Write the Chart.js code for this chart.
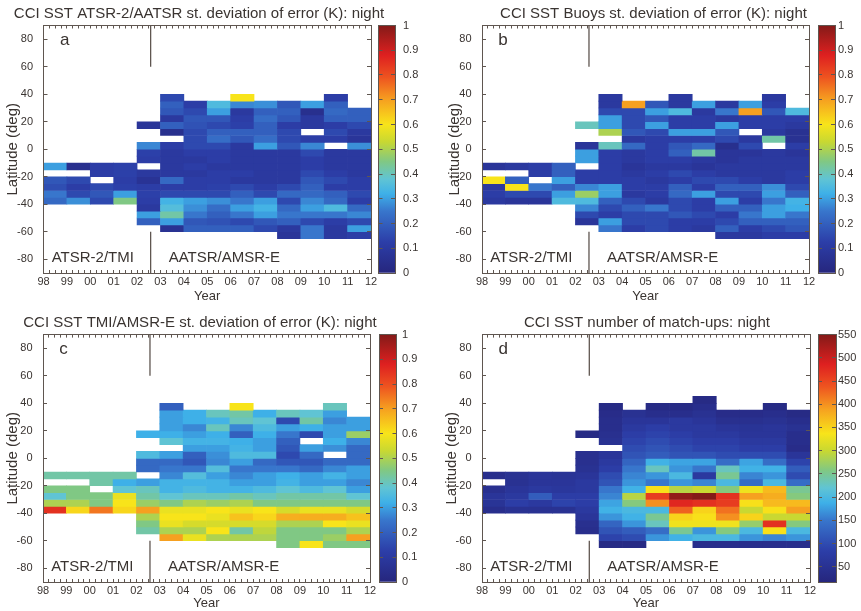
<!DOCTYPE html>
<html>
<head>
<meta charset="utf-8">
<title>CCI SST night statistics</title>
<script src="https://cdn.jsdelivr.net/npm/chart.js@4.4.1/dist/chart.umd.min.js"></script>
<style>
  html, body { margin: 0; padding: 0; background: #ffffff; }
  #figure { position: relative; width: 861px; height: 611px; overflow: hidden; }
  #figure canvas { position: absolute; }
</style>
</head>
<body>
<div id="figure"></div>
<script>
// ---- data: 5 degree latitude bands x yearly columns (98 .. 11) ----
const _ = null;
const firstYear = 1998;
const lastYear = 2012;
const yearLabels = ['98', '99', '00', '01', '02', '03', '04', '05', '06', '07', '08', '09', '10', '11', '12'];
const latStep = 5;
const latTops = [45, 40, 35, 30, 25, 20, 15, 10, 5, 0, -5, -10, -15, -20, -25, -30, -35, -40, -45, -50, -55, -60];
const latTicks = [-80, -60, -40, -20, 0, 20, 40, 60, 80];
const switchYear = 2002.58;

const sdRange = [0, 1];
const sdTicks = [0, 0.1, 0.2, 0.3, 0.4, 0.5, 0.6, 0.7, 0.8, 0.9, 1];
const countRange = [17, 550];
const countTicks = [50, 100, 150, 200, 250, 300, 350, 400, 450, 500, 550];

// st. deviation of error (K), ATSR-2/AATSR
const sdAtsr = [
  [_, _, _, _, _, _, _, _, _, _, _, _, _, _],
  [_, _, _, _, _, .15, _, _, .60, _, _, _, .12, _],
  [_, _, _, _, _, .20, .12, .35, .27, .28, .18, .30, .20, _],
  [_, _, _, _, _, .18, .15, .30, .10, .20, .20, .05, .22, .20],
  [_, _, _, _, _, .10, .18, .18, .12, .23, .18, .10, .20, .20],
  [_, _, _, _, .08, .20, .17, .15, .13, .20, .12, .10, .12, .15],
  [_, _, _, _, _, .05, .15, .20, .20, .20, .15, _, .15, .10],
  [_, _, _, _, _, _, .15, .23, .18, .23, .15, .12, .12, .08],
  [_, _, _, _, .27, .12, .15, .15, .10, .30, .18, .27, _, .28],
  [_, _, _, _, .13, .10, .12, .12, .10, .10, .10, .15, .10, .10],
  [_, _, _, _, .12, .10, .10, .12, .10, .10, .10, .12, .10, .10],
  [.30, .05, .12, .13, _, .10, .12, .10, .10, .10, .10, .12, .10, .10],
  [_, _, .12, .13, .10, .10, .10, .12, .12, .10, .10, .15, .12, .10],
  [.18, .15, _, .12, .07, .22, .12, .12, .10, .10, .10, .18, .15, .12],
  [.16, .12, .15, .13, .12, .12, .12, .13, .15, .12, .15, .20, .12, .12],
  [.25, .15, .18, .30, .13, .15, .15, .15, .20, .15, .22, .22, .20, .15],
  [.22, .28, .15, .45, .12, .33, .30, .28, .25, .30, .15, .27, .22, .12],
  [_, _, _, _, .10, .36, .28, .23, .30, .33, .22, .30, .35, .22],
  [_, _, _, _, .30, .42, .25, .20, .25, .30, .25, .25, .25, .27],
  [_, _, _, _, .20, .30, .18, .17, .15, .18, .20, .15, .12, .15],
  [_, _, _, _, _, .06, .20, .20, .20, .15, .10, .25, .10, .30],
  [_, _, _, _, _, _, _, _, _, _, .08, .25, .10, .12]
];

// st. deviation of error (K), buoys
const sdBuoys = [
  [_, _, _, _, _, _, _, _, _, _, _, _, _, _],
  [_, _, _, _, _, .10, _, _, .10, _, _, _, .10, _],
  [_, _, _, _, _, .10, .70, .18, .10, .30, .10, .30, .12, _],
  [_, _, _, _, _, .15, .15, .30, .35, .10, .25, .70, .18, .35],
  [_, _, _, _, _, .30, .15, .18, .12, .12, .10, .12, .12, .12],
  [_, _, _, _, .40, .30, .15, .30, .12, .12, .30, .12, .12, .10],
  [_, _, _, _, _, .50, .18, .15, .30, .30, .18, _, .10, .06],
  [_, _, _, _, _, _, .10, .12, .12, .12, .15, .10, .42, .06],
  [_, _, _, _, .08, .40, .22, .12, .18, .22, .05, .15, _, .12],
  [_, _, _, _, .30, .12, .10, .12, .20, .42, .08, .08, .10, .08],
  [_, _, _, _, .30, .12, .10, .12, .12, .10, .08, .10, .10, .10],
  [.08, .10, .12, .20, _, .12, .08, .10, .10, .08, .10, .10, .10, .10],
  [_, _, .12, .20, .12, .12, .10, .12, .15, .12, .10, .10, .10, .12],
  [.60, .20, _, .30, .12, .12, .12, .10, .12, .15, .15, .12, .10, .12],
  [.10, .60, .25, .20, .27, .30, .12, .12, .20, .12, .20, .20, .28, .15],
  [.12, .15, .15, .30, .48, .30, .10, .12, .22, .30, .15, .15, .30, .20],
  [.10, .08, .08, .35, .35, .20, .15, .10, .15, .12, .30, .12, .25, .33],
  [_, _, _, _, .27, .15, .20, .25, .15, .12, .20, .20, .30, .32],
  [_, _, _, _, .15, .12, .15, .15, .18, .15, .12, .25, .30, .25],
  [_, _, _, _, .08, .30, .15, .15, .12, .12, .15, .20, .20, .20],
  [_, _, _, _, _, .25, .12, .15, .12, .10, .20, .12, .15, .18],
  [_, _, _, _, _, _, _, _, _, _, .10, .10, .12, .12]
];

// st. deviation of error (K), TMI/AMSR-E
const sdTmi = [
  [_, _, _, _, _, _, _, _, _, _, _, _, _, _],
  [_, _, _, _, _, .20, _, _, .60, _, _, _, .40, _],
  [_, _, _, _, _, .30, .32, .40, .42, .32, .40, .38, .30, _],
  [_, _, _, _, _, .30, .32, .33, .40, .38, .15, .42, .27, .30],
  [_, _, _, _, _, .30, .27, .40, .27, .35, .30, .32, .30, .30],
  [_, _, _, _, .32, .32, .30, .32, .20, .32, .25, .15, .30, .48],
  [_, _, _, _, _, .38, .33, .33, .32, .30, .20, _, .32, .27],
  [_, _, _, _, _, _, .30, .30, .33, .30, .18, .30, .28, .22],
  [_, _, _, _, .35, .30, .20, .28, .35, .35, .15, .22, _, .22],
  [_, _, _, _, .22, .22, .18, .27, .30, .22, .18, .18, .22, .22],
  [_, _, _, _, .22, .25, .25, .36, .25, .25, .25, .22, .27, .30],
  [.42, .42, .42, .42, _, .27, .36, .30, .27, .30, .32, .30, .33, .30],
  [_, _, .42, .32, .30, .33, .33, .33, .30, .30, .33, .30, .30, .27],
  [.45, .45, _, .38, .40, .33, .35, .33, .33, .35, .38, .35, .38, .30],
  [.38, .45, .45, .58, .42, .38, .40, .40, .42, .40, .42, .42, .42, .38],
  [.50, .50, .45, .60, .48, .45, .50, .48, .50, .45, .45, .45, .45, .45],
  [.85, .62, .75, .62, .70, .58, .58, .60, .58, .60, .55, .58, .58, .55],
  [_, _, _, _, .50, .60, .60, .58, .65, .62, .68, .68, .68, .65],
  [_, _, _, _, .45, .58, .55, .55, .55, .55, .50, .50, .60, .58],
  [_, _, _, _, .42, .50, .50, .60, .42, .52, .45, .45, .45, .50],
  [_, _, _, _, _, .70, .58, .50, .50, .50, .45, .45, .48, .70],
  [_, _, _, _, _, _, _, _, _, _, .45, .60, .45, .45]
];

// number of match-ups
const matchups = [
  [_, _, _, _, _, _, _, _, _, 30, _, _, _, _],
  [_, _, _, _, _, 30, _, 30, 30, 40, _, _, 30, _],
  [_, _, _, _, _, 35, 50, 40, 40, 50, 35, 35, 40, 30],
  [_, _, _, _, _, 40, 60, 60, 70, 60, 45, 45, 50, 40],
  [_, _, _, _, _, 40, 70, 80, 70, 70, 60, 55, 60, 50],
  [_, _, _, _, 30, 45, 80, 90, 80, 70, 70, 60, 60, 40],
  [_, _, _, _, _, 50, 90, 100, 90, 80, 80, 70, 70, 40],
  [_, _, _, _, _, _, 100, 110, 100, 90, 90, 80, 80, 35],
  [_, _, _, _, 45, 60, 110, 120, 110, 110, 100, 100, 100, 60],
  [_, _, _, _, 45, 70, 130, 190, 180, 180, 140, 180, 140, 90],
  [_, _, _, _, 50, 80, 150, 230, 170, 150, 230, 190, 190, 120],
  [40, 50, 60, 55, 60, 100, 160, 170, 200, 70, 250, 160, 170, 100],
  [_, 50, 60, 60, 70, 110, 170, 150, 170, 160, 200, 140, 200, 140],
  [45, 60, 70, 65, 70, 150, 190, 340, 290, 300, 260, 330, 370, 250],
  [60, 70, 120, 80, 80, 160, 290, 460, 540, 550, 470, 390, 380, 260],
  [55, 80, 70, 90, 80, 180, 260, 400, 480, 470, 460, 340, 370, 370],
  [40, 50, 50, 50, 70, 190, 200, 200, 430, 350, 420, 300, 340, 390],
  [_, _, _, _, 60, 170, 190, 250, 350, 340, 400, 350, 300, 300],
  [_, _, _, _, 45, 130, 170, 230, 330, 330, 330, 270, 470, 260],
  [_, _, _, _, 40, 110, 120, 140, 250, 170, 260, 200, 340, 200],
  [_, _, _, _, _, 90, 100, 170, 190, 200, 200, 170, 160, 170],
  [_, _, _, _, _, 30, 30, _, _, 40, 40, 40, 40, 40]
];

// ---- styling ----
const FONT = "'Liberation Sans', Arial, Helvetica, sans-serif";
const INK = '#3a3431';
const FRAME = '#5f5650';

// jet-like colour map, slightly muted
const cmapStops = [
  [0.000, [38, 38, 125]],
  [0.125, [44, 62, 168]],
  [0.250, [56, 118, 204]],
  [0.320, [62, 176, 232]],
  [0.380, [96, 196, 212]],
  [0.450, [128, 200, 132]],
  [0.530, [200, 216, 50]],
  [0.600, [248, 228, 26]],
  [0.700, [246, 160, 32]],
  [0.790, [238, 84, 32]],
  [0.880, [222, 32, 32]],
  [1.000, [132, 26, 24]]
];

function cmap(t) {
  t = Math.max(0, Math.min(1, t));
  for (let i = 1; i < cmapStops.length; i++) {
    const [t1, c1] = cmapStops[i];
    if (t <= t1) {
      const [t0, c0] = cmapStops[i - 1];
      const f = (t - t0) / (t1 - t0);
      const c = c0.map((v, k) => Math.round(v + (c1[k] - v) * f));
      return `rgb(${c[0]},${c[1]},${c[2]})`;
    }
  }
  const c = cmapStops[cmapStops.length - 1][1];
  return `rgb(${c[0]},${c[1]},${c[2]})`;
}

const quarterTicks = [];
for (let v = firstYear; v <= lastYear; v += 0.25) quarterTicks.push(v);

const figure = document.getElementById('figure');
function addCanvas(box) {
  const c = document.createElement('canvas');
  c.width = box.width;
  c.height = box.height;
  c.style.left = box.left + 'px';
  c.style.top = box.top + 'px';
  figure.appendChild(c);
  return c;
}

// text written inside the map (panel letter and instrument periods)
function notesPlugin(items) {
  return {
    id: 'panelNotes',
    afterDatasetsDraw(chart) {
      const {ctx} = chart;
      const xs = chart.scales.xb, ys = chart.scales.yb;
      ctx.save();
      ctx.fillStyle = INK;
      ctx.textAlign = 'left';
      ctx.textBaseline = 'middle';
      items.forEach(it => {
        ctx.font = it.size + 'px ' + FONT;
        ctx.fillText(it.text, xs.getPixelForValue(it.x), ys.getPixelForValue(it.y));
      });
      ctx.restore();
    }
  };
}

const tickGrid = len => ({drawOnChartArea: false, offset: false, tickLength: len, color: FRAME, lineWidth: 1, z: 1});
const frameBorder = {color: FRAME, width: 1, z: 1};
const setTicks = list => scale => { scale.ticks = list.map(v => ({value: v})); };

function drawMap(p) {
  const norm = v => (v - p.range[0]) / (p.range[1] - p.range[0]);
  const datasets = [{
    type: 'line',
    xAxisID: 'xb',
    yAxisID: 'yb',
    data: [
      {x: switchYear, y: 90}, {x: switchYear, y: 60}, {x: switchYear, y: null},
      {x: switchYear, y: -60}, {x: switchYear, y: -90}
    ],
    borderColor: FRAME,
    borderWidth: 1.3,
    pointRadius: 0,
    spanGaps: false
  }];
  latTops.forEach((top, r) => {
    const cells = [];
    p.grid[r].forEach((v, i) => {
      if (v !== null) cells.push({x: firstYear + i + 0.5, y: [top - latStep, top], v: v});
    });
    if (!cells.length) return;
    datasets.push({
      type: 'bar',
      xAxisID: 'xb',
      yAxisID: 'yb',
      data: cells,
      backgroundColor: ctx => (ctx.raw ? cmap(norm(ctx.raw.v)) : 'rgba(0,0,0,0)'),
      borderWidth: 0,
      barPercentage: 1,
      categoryPercentage: 1,
      grouped: false
    });
  });

  const tickFont = {family: FONT, size: 11};
  new Chart(addCanvas(p.box), {
    type: 'bar',
    data: {datasets},
    plugins: [notesPlugin([
      {text: p.letter, x: firstYear + 0.7, y: 79, size: 17},
      {text: 'ATSR-2/TMI', x: firstYear + 0.35, y: -79, size: 15},
      {text: 'AATSR/AMSR-E', x: firstYear + 5.35, y: -79, size: 15}
    ])],
    options: {
      responsive: false,
      animation: false,
      devicePixelRatio: 1,
      events: [],
      layout: {padding: 0},
      plugins: {
        legend: {display: false},
        tooltip: {enabled: false},
        title: {
          display: true,
          text: p.title,
          color: INK,
          font: {family: FONT, size: 15, weight: 'normal'},
          padding: p.titlePad
        }
      },
      scales: {
        // hidden axes that place the cells
        xb: {type: 'linear', display: false, offset: false, min: firstYear, max: lastYear, ticks: {stepSize: 1}},
        yb: {type: 'linear', display: false, min: -90, max: 90},
        x: {
          type: 'linear', position: 'bottom', offset: false, min: firstYear, max: lastYear,
          afterBuildTicks: setTicks(quarterTicks),
          ticks: {
            autoSkip: false, maxRotation: 0, padding: 5, color: INK, font: tickFont,
            callback: v => (Number.isInteger(v) ? yearLabels[v - firstYear] : '')
          },
          grid: tickGrid(-3),
          border: frameBorder,
          title: {display: true, text: 'Year', color: INK, font: {family: FONT, size: 13}, padding: {top: 0, bottom: p.xTitlePad}},
          afterFit: s => { s.height = p.xH; }
        },
        x2: {
          type: 'linear', position: 'top', offset: false, min: firstYear, max: lastYear,
          afterBuildTicks: setTicks(quarterTicks),
          ticks: {display: false, autoSkip: false},
          grid: tickGrid(-3),
          border: frameBorder,
          afterFit: s => { s.height = 0; }
        },
        y: {
          type: 'linear', position: 'left', min: -90, max: 90,
          afterBuildTicks: setTicks(latTicks),
          ticks: {padding: 14.5, color: INK, font: tickFont},
          grid: tickGrid(-4),
          border: frameBorder,
          title: {display: true, text: 'Latitude (deg)', color: INK, font: {family: FONT, size: 15}, padding: {top: p.yTitlePad, bottom: 0}},
          afterFit: s => { s.width = p.yW; }
        },
        y2: {
          type: 'linear', position: 'right', min: -90, max: 90,
          afterBuildTicks: setTicks(latTicks),
          ticks: {display: false},
          grid: tickGrid(-4),
          border: frameBorder,
          afterFit: s => { s.width = p.y2W; }
        }
      }
    }
  });
}

function drawColorbar(p) {
  const fill = ctx => {
    const area = ctx.chart.chartArea;
    if (!area) return 'rgba(0,0,0,0)';
    const g = ctx.chart.ctx.createLinearGradient(0, area.bottom, 0, area.top);
    cmapStops.forEach(([t, c]) => g.addColorStop(t, `rgb(${c[0]},${c[1]},${c[2]})`));
    return g;
  };
  const tickFont = {family: FONT, size: 11};
  new Chart(addCanvas(p.cbBox), {
    type: 'bar',
    data: {
      labels: [''],
      datasets: [{
        data: [[p.range[0], p.range[1]]],
        backgroundColor: fill,
        borderWidth: 0,
        barPercentage: 1,
        categoryPercentage: 1
      }]
    },
    options: {
      responsive: false,
      animation: false,
      devicePixelRatio: 1,
      events: [],
      layout: {padding: {left: p.cbPadL, top: p.cbTop, right: 0, bottom: 0}},
      plugins: {legend: {display: false}, tooltip: {enabled: false}},
      scales: {
        x: {
          position: 'bottom', grid: {display: false}, ticks: {display: false}, border: frameBorder,
          afterFit: s => { s.height = p.xH; }
        },
        x2: {
          type: 'category', position: 'top', grid: {display: false}, ticks: {display: false}, border: frameBorder,
          afterFit: s => { s.height = 0; }
        },
        y: {
          position: 'left', min: p.range[0], max: p.range[1],
          afterBuildTicks: setTicks(p.cbTicks),
          ticks: {display: false},
          grid: tickGrid(-4),
          border: frameBorder,
          afterFit: s => { s.width = 0; }
        },
        y2: {
          position: 'right', min: p.range[0], max: p.range[1],
          afterBuildTicks: setTicks(p.cbTicks),
          ticks: {padding: p.cbLabelPad, color: INK, font: tickFont, callback: v => String(+v.toFixed(2))},
          grid: tickGrid(-4),
          border: frameBorder,
          afterFit: s => { s.width = p.cbRightW; }
        }
      }
    }
  });
}

const topTitlePad = {top: 5.0, bottom: 2.5};
const lowTitlePad = {top: 13.7, bottom: 2.9};

const panels = [
  {
    grid: sdAtsr, range: sdRange, cbTicks: sdTicks, letter: 'a',
    title: 'CCI SST ATSR-2/AATSR st. deviation of error (K): night',
    box: {left: 0, top: 0, width: 398, height: 306}, yW: 43.5, y2W: 27, xH: 33,
    titlePad: topTitlePad, yTitlePad: 4.0, xTitlePad: 2.2,
    cbBox: {left: 360, top: 0, width: 70, height: 306}, cbPadL: 18.5, cbRightW: 35, cbLabelPad: 12, cbTop: 25.5
  },
  {
    grid: sdBuoys, range: sdRange, cbTicks: sdTicks, letter: 'b',
    title: 'CCI SST Buoys st. deviation of error (K): night',
    box: {left: 446, top: 0, width: 415, height: 306}, yW: 36, y2W: 52, xH: 33,
    titlePad: topTitlePad, yTitlePad: 0, xTitlePad: 2.2,
    cbBox: {left: 800, top: 0, width: 61, height: 306}, cbPadL: 18, cbRightW: 26, cbLabelPad: 7, cbTop: 25.5
  },
  {
    grid: sdTmi, range: sdRange, cbTicks: sdTicks, letter: 'c',
    title: 'CCI SST TMI/AMSR-E st. deviation of error (K): night',
    box: {left: 0, top: 300, width: 400, height: 311}, yW: 43, y2W: 30, xH: 29,
    titlePad: lowTitlePad, yTitlePad: 4.0, xTitlePad: 0.2,
    cbBox: {left: 360, top: 300, width: 70, height: 311}, cbPadL: 19, cbRightW: 33.5, cbLabelPad: 9.5, cbTop: 34.6
  },
  {
    grid: matchups, range: countRange, cbTicks: countTicks, letter: 'd',
    title: 'CCI SST number of match-ups: night',
    box: {left: 433, top: 300, width: 428, height: 311}, yW: 49, y2W: 51, xH: 29,
    titlePad: lowTitlePad, yTitlePad: 10.0, xTitlePad: 0.2,
    cbBox: {left: 800, top: 300, width: 61, height: 311}, cbPadL: 18, cbRightW: 25, cbLabelPad: 6, cbTop: 34.6
  }
];

panels.forEach(p => {
  drawMap(p);
  drawColorbar(p);
});
</script>
</body>
</html>
